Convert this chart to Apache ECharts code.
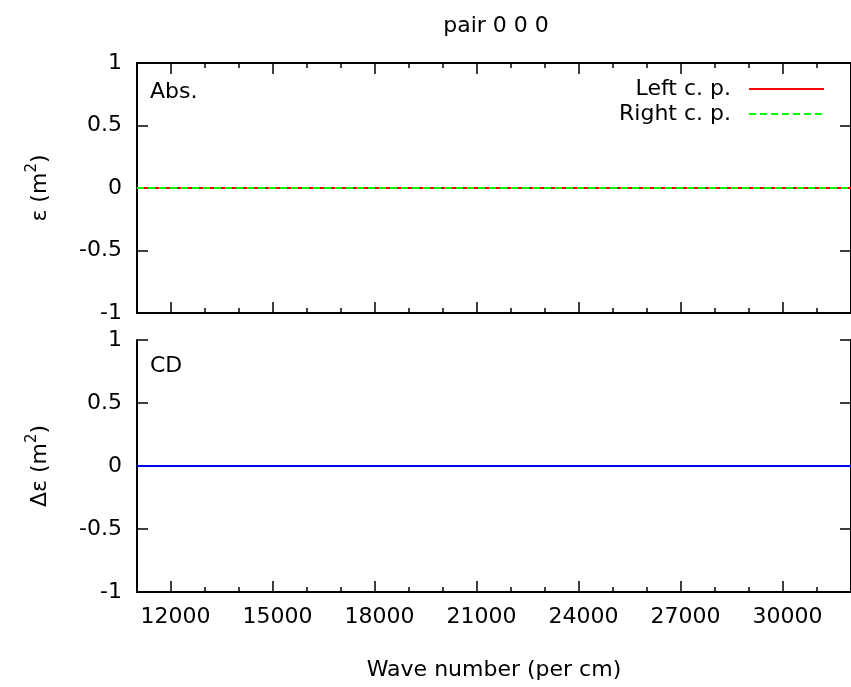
<!DOCTYPE html>
<html><head><meta charset="utf-8">
<script src="https://cdn.jsdelivr.net/npm/echarts@6/dist/echarts.min.js"></script>
<style>html,body{margin:0;padding:0;background:#fff}#c{width:851px;height:687px}</style>
</head><body><div id="c"></div>
<script>
// ---- data ----
const waveNumbers = [11000, 12000, 15000, 18000, 21000, 24000, 27000, 30000, 32000];
const leftCP      = [0, 0, 0, 0, 0, 0, 0, 0, 0];
const rightCP     = [0, 0, 0, 0, 0, 0, 0, 0, 0];
const cdValues    = [0, 0, 0, 0, 0, 0, 0, 0, 0];
const xMajorTicks = [12000, 15000, 18000, 21000, 24000, 27000, 30000];
const seriesNames = ['Left c. p.', 'Right c. p.', 'CD'];
const titleText = 'pair 0 0 0';
const xName = 'Wave number (per cm)';
const yNameTop = 'ε (m{sup|2})';
const yNameBottom = 'Δε (m{sup|2})';
const panelLabels = ['Abs.', 'CD'];

// ---- style ----
const FONT = 'DejaVu Sans';
const FS = 22;
const black = '#000';
const xMin = 11000, xMax = 32000;

function pairs(xs, ys){ return xs.map((x,i)=>[x, ys[i]]); }

function xAxisMajor(grid, pos, labels){
  return {
    type:'value', gridIndex:grid, position:pos, min:xMin, max:xMax, interval:1000,
    axisLine:{show:true, onZero:false, lineStyle:{color:black, width:2}},
    axisTick:{show:true, inside:true, length:11, customValues:xMajorTicks, lineStyle:{color:black, width:1.5}},
    axisLabel:{show:labels, customValues:xMajorTicks, formatter:(v)=>String(v), color:black, fontSize:FS, fontFamily:FONT, margin:14, padding:[0,0,0,9]},
    splitLine:{show:false},
    name: labels ? xName : '', nameLocation:'middle', nameGap:67,
    nameTextStyle:{color:black, fontSize:FS, fontFamily:FONT}
  };
}
function xAxisMinor(grid, pos){
  return {
    type:'value', gridIndex:grid, position:pos, min:xMin, max:xMax, interval:1000,
    axisLine:{show:false, onZero:false},
    axisTick:{show:true, inside:true, length:5, lineStyle:{color:black, width:1.5}},
    axisLabel:{show:false}, splitLine:{show:false}
  };
}
function yAxisDef(grid, pos, labels, name){
  return {
    type:'value', gridIndex:grid, position:pos, min:-1, max:1, interval:0.5,
    axisLine:{show:true, onZero:false, lineStyle:{color:black, width:2}},
    axisTick:{show:true, inside:true, length:11, lineStyle:{color:black, width:1.5}},
    axisLabel:{show:labels, formatter:(v)=>String(v), color:black, fontSize:FS, fontFamily:FONT, margin:15, showMinLabel:true, showMaxLabel:true},
    splitLine:{show:false},
    name: name || '', nameLocation:'middle', nameGap:82,
    nameTextStyle:{color:black, fontSize:FS, fontFamily:FONT, lineHeight:30,
      rich:{sup:{fontSize:15, fontFamily:FONT, color:black, lineHeight:15, verticalAlign:'top'}}}
  };
}

const chart = echarts.init(document.getElementById('c'), null, {renderer:'canvas'});
chart.setOption({
  animation:false,
  backgroundColor:'#fff',
  grid:[
    {left:137, top:63, width:718, height:250},
    {left:137, top:340, width:718, height:252}
  ],
  xAxis:[
    xAxisMajor(0,'bottom',false),
    xAxisMinor(0,'bottom'),
    xAxisMajor(0,'top',false),
    xAxisMinor(0,'top'),
    xAxisMajor(1,'bottom',true),
    xAxisMinor(1,'bottom')
  ],
  yAxis:[
    yAxisDef(0,'left',true,yNameTop),
    yAxisDef(0,'right',false),
    yAxisDef(1,'left',true,yNameBottom),
    yAxisDef(1,'right',false)
  ],
  legend:{
    data:[seriesNames[0], seriesNames[1]],
    orient:'vertical', align:'right', right:26, top:78, padding:0,
    itemWidth:75, itemHeight:14, itemGap:3,
    itemStyle:{opacity:0},
    textStyle:{color:black, fontSize:FS, fontFamily:FONT, lineHeight:22, padding:[0,13,0,0]}
  },
  graphic:[
    {type:'text', x:496, y:15, style:{text:titleText, fill:black, fontSize:FS, fontFamily:FONT, align:'center', verticalAlign:'top'}},
    {type:'text', x:150, y:81, style:{text:panelLabels[0], fill:black, fontSize:FS, fontFamily:FONT, align:'left', verticalAlign:'top'}},
    {type:'text', x:150, y:355, style:{text:panelLabels[1], fill:black, fontSize:FS, fontFamily:FONT, align:'left', verticalAlign:'top'}}
  ],
  series:[
    {name:seriesNames[0], type:'line', xAxisIndex:0, yAxisIndex:0, data:pairs(waveNumbers,leftCP),
     symbol:'none', showSymbol:false, lineStyle:{color:'#ff0000', width:2}, itemStyle:{color:'#ff0000'}},
    {name:seriesNames[1], type:'line', xAxisIndex:0, yAxisIndex:0, data:pairs(waveNumbers,rightCP),
     symbol:'none', showSymbol:false, lineStyle:{color:'#00ff00', width:2, type:[7,4]}, itemStyle:{color:'#00ff00'}},
    {name:seriesNames[2], type:'line', xAxisIndex:4, yAxisIndex:2, data:pairs(waveNumbers,cdValues),
     symbol:'none', showSymbol:false, lineStyle:{color:'#0000ff', width:2}, itemStyle:{color:'#0000ff'}}
  ]
});
</script>
</body></html>
